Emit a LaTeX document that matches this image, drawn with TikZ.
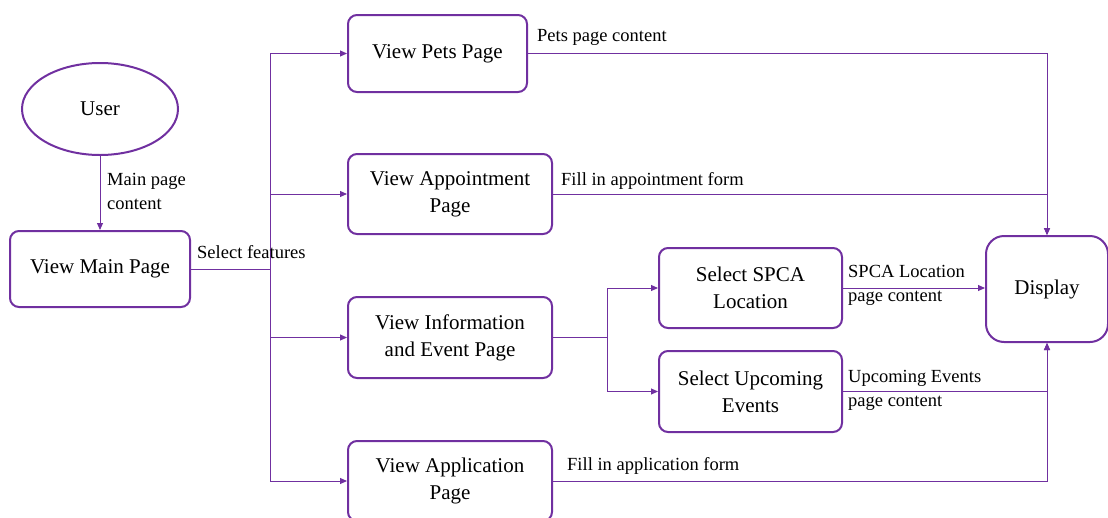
\documentclass[tikz,border=0pt]{standalone}
\usepackage{fontspec}
\setmainfont{Liberation Serif}
\usetikzlibrary{arrows.meta,shapes.geometric}
\definecolor{pur}{HTML}{7030A0}
\begin{document}
\begin{tikzpicture}[x=1pt,y=-1pt,
  box/.style={draw=pur,line width=2pt,rounded corners=9pt,align=center,font=\fontsize{21}{27}\selectfont,inner sep=0pt},
  lbl/.style={font=\fontsize{18.5}{24}\selectfont,align=left,inner sep=0pt,anchor=west},
  conn/.style={draw=pur,line width=1pt},
  arr/.style={conn,-{Triangle[length=7pt,width=6pt]}}]
\useasboundingbox (0,0) rectangle (1108,517);
\node[draw=pur,line width=2pt,ellipse,minimum width=156,minimum height=92,inner sep=0pt,font=\fontsize{21}{27}\selectfont] (user) at (100,109) {User};
\node[box,minimum width=180,minimum height=76] (main) at (100,269) {View Main Page};
\node[box,minimum width=179,minimum height=77] (pets) at (437.5,53.5) {View Pets Page};
\node[box,minimum width=204,minimum height=80] (appt) at (450,194) {View Appointment\\Page};
\node[box,minimum width=204,minimum height=81] (info) at (450,337.5) {View Information\\and Event Page};
\node[box,minimum width=204,minimum height=80] (app) at (450,481) {View Application\\Page};
\node[box,minimum width=183,minimum height=80] (spca) at (750.5,288) {Select SPCA\\Location};
\node[box,minimum width=183,minimum height=81] (upc) at (750.5,391.5) {Select Upcoming\\Events};
\node[box,rounded corners=18pt,minimum width=122,minimum height=106] (disp) at (1047,289) {Display};
% connectors
\draw[arr] (user) -- (main);
\coordinate (trunk) at (270,269);
\draw[conn] (main.east) -- (trunk);
\draw[arr] (trunk) |- (pets.west);
\draw[arr] (trunk) |- (appt.west);
\draw[arr] (trunk) |- (info.west);
\draw[arr] (trunk) |- (app.west);
\coordinate (split) at (607,337.5);
\draw[conn] (info.east) -- (split);
\draw[arr] (split) |- (spca.west);
\draw[arr] (split) |- (upc.west);
\draw[arr] (spca.east) -- (spca.east -| disp.west);
\draw[arr] (pets.east) -| (disp.north);
\draw[arr] (appt.east) -| (disp.north);
\draw[arr] (upc.east) -| (disp.south);
\draw[arr] (app.east) -| (disp.south);
% labels
\node[lbl] (l1) at (107,191) {Main page\\content};
\node[lbl] (l2) at (197,252) {Select features};
\node[lbl] (l3) at (537,37) {Pets page content};
\node[lbl] (l4) at (561,181) {Fill in appointment form};
\node[lbl] (l5) at (848,285) {SPCA Location\\page content};
\node[lbl] (l6) at (848,390) {Upcoming Events\\page content};
\node[lbl] (l7) at (567,466) {Fill in application form};
\end{tikzpicture}
\end{document}
